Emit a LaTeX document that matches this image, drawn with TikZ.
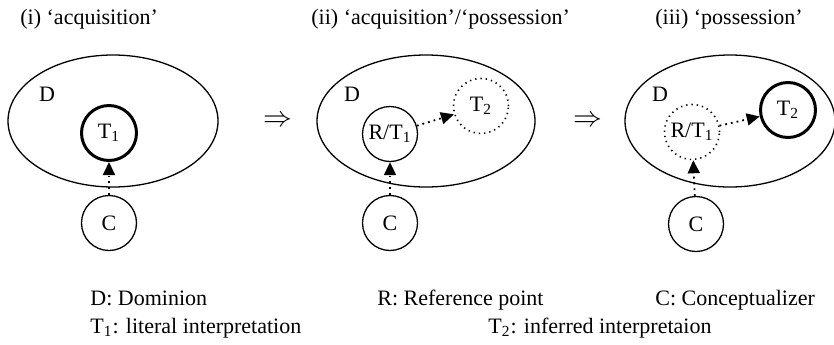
\documentclass[tikz,border=0pt]{standalone}
\usepackage{fontspec}
\setmainfont{Liberation Serif}
\usetikzlibrary{arrows.meta}

\begin{document}
\begin{tikzpicture}[x=0.5pt,y=-0.5pt,
		every node/.style={font=\fontsize{11}{13}\selectfont,inner sep=0pt},
		role/.style={circle,draw,line width=0.65pt,minimum size=27.5pt},
		focus/.style={role,line width=1.5pt},
		faded/.style={role,dotted,line width=0.8pt},
		reach/.style={dotted,line width=0.9pt,-{Triangle[length=6.5pt,width=6pt]}}]
		\useasboundingbox (0,0) rectangle (834,344);
		% dominions
		\foreach \i/\x/\rx/\dx in {1/113/52.5/47,2/426/54.5/352,3/730/52.5/660}{
			\draw[line width=0.65pt] (\x,121) ellipse [x radius=\rx pt, y radius=33pt];
			\node (d\i) at (\dx,94) {D};
		}
		% (i)
		\node[focus] (t1a) at (109,133) {T\textsubscript{1}};
		\node[role] (c1) at (109,223) {C};
		% (ii)
		\node[role] (rt2) at (390,134) {R/T\textsubscript{1}};
		\node[faded] (t2b) at (481,106) {T\textsubscript{2}};
		\node[role] (c2) at (390,223) {C};
		% (iii)
		\node[faded] (rt3) at (692,132) {R/T\textsubscript{1}};
		\node[focus] (t2c) at (788,110) {T\textsubscript{2}};
		\node[role] (c3) at (696,224) {C};
		\foreach \a/\b in {c1/t1a,c2/rt2,rt2/t2b,c3/rt3,rt3/t2c}
			\draw[reach] (\a) -- (\b);
		\node[font=\fontsize{14}{16}\selectfont] (ar1) at (278,121) {$\Rightarrow$};
		\node[font=\fontsize{14}{16}\selectfont] (ar2) at (588,121) {$\Rightarrow$};
		% titles
		\node[anchor=base west] (h1) at (20,24) {(i) `acquisition'};
		\node[anchor=base west] (h2) at (311,24) {(ii) `acquisition'/`possession'};
		\node[anchor=base west] (h3) at (655,24) {(iii) `possession'};
		% legend
		\node[anchor=base west] (k1) at (90,305) {D: Dominion};
		\node[anchor=base west] (k2) at (377,305) {R: Reference point};
		\node[anchor=base west] (k3) at (655,305) {C: Conceptualizer};
		\node[anchor=base west] (k4) at (90,333) {T\textsubscript{1}: literal interpretation};
		\node[anchor=base west] (k5) at (488,333) {T\textsubscript{2}: inferred interpretaion};
	\end{tikzpicture}
\end{document}
